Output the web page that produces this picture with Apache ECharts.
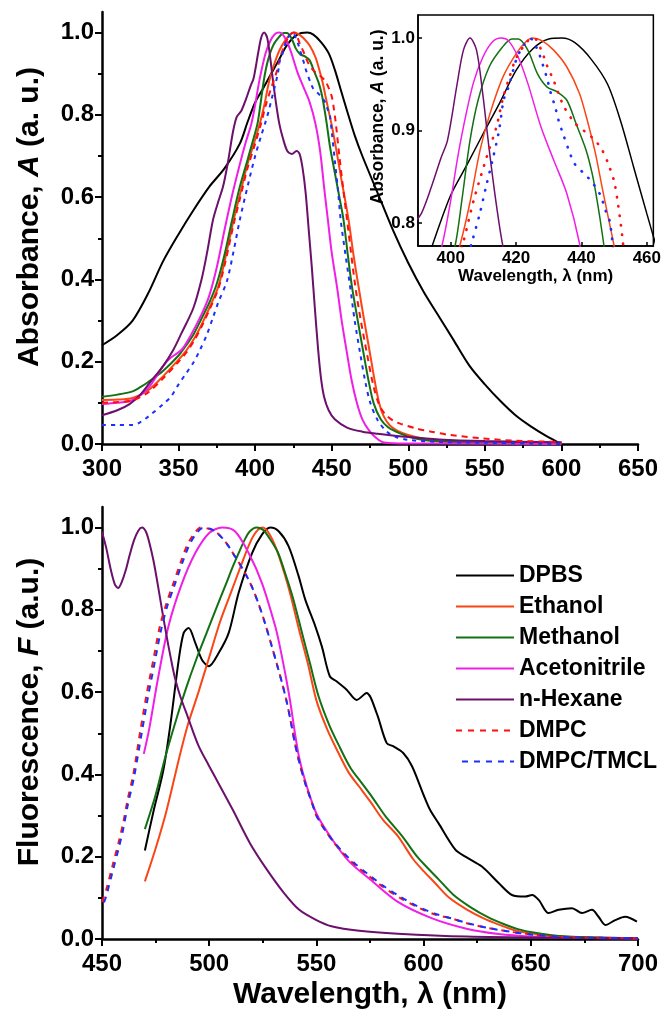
<!DOCTYPE html>
<html>
<head>
<meta charset="utf-8">
<script src="https://cdn.jsdelivr.net/npm/echarts@6/dist/echarts.min.js"></script>
<style>
html,body{margin:0;padding:0;background:#fff;}
#chart{width:664px;height:1017px;}
</style>
</head>
<body>
<div id="chart"></div>
<script>
//吸收光谱 (上图)  [波长 nm, 吸光度]
var absDPBS = [[300,0.24],[310,0.265],[320,0.30],[330,0.365],[340,0.445],[350,0.51],[360,0.57],[370,0.625],[380,0.67],[390,0.73],[395,0.782],[400,0.83],[405,0.863],[410,0.897],[415,0.93],[420,0.965],[425,0.988],[430,0.999],[434,1.0],[438,0.995],[443,0.977],[448,0.95],[452,0.91],[456,0.86],[460,0.81],[465,0.75],[470,0.70],[480,0.61],[490,0.52],[500,0.44],[510,0.37],[520,0.31],[530,0.25],[540,0.19],[550,0.145],[560,0.105],[570,0.07],[580,0.043],[590,0.02],[600,0.0]];
var absEthanol = [[300,0.107],[310,0.108],[320,0.112],[330,0.13],[340,0.165],[350,0.205],[355,0.227],[360,0.255],[365,0.29],[370,0.33],[376,0.383],[381,0.46],[386,0.545],[390,0.605],[395,0.68],[400,0.74],[403.5,0.785],[406,0.824],[409,0.879],[412,0.918],[416,0.958],[420,0.983],[423,0.996],[425,1.0],[428,0.997],[431.5,0.987],[435.5,0.969],[439.4,0.94],[442.3,0.904],[444.3,0.875],[446.3,0.839],[448.2,0.806],[450,0.775],[453,0.715],[456,0.65],[461,0.545],[464,0.465],[467.5,0.383],[471,0.305],[475,0.22],[478,0.155],[481,0.099],[484,0.067],[488,0.045],[493,0.032],[500,0.022],[510,0.013],[525,0.007],[550,0.004],[600,0.002]];
var absMethanol = [[300,0.115],[310,0.12],[320,0.128],[325,0.138],[330,0.15],[340,0.178],[350,0.215],[355,0.24],[360,0.268],[365,0.305],[370,0.343],[375,0.39],[380,0.46],[385,0.545],[390,0.625],[395,0.69],[398,0.73],[401.5,0.778],[403.4,0.824],[405.9,0.889],[408.4,0.933],[411.8,0.969],[415.8,0.99],[418.7,0.999],[420.7,0.999],[423.6,0.987],[426.6,0.961],[429.5,0.947],[432.5,0.942],[435.5,0.933],[438.4,0.907],[441.4,0.879],[443.3,0.853],[444.8,0.824],[446.5,0.785],[449,0.72],[452,0.66],[455,0.6],[457.7,0.545],[460.5,0.46],[463.2,0.383],[467,0.3],[470.8,0.22],[474,0.155],[477.3,0.1],[482,0.06],[487,0.04],[492,0.03],[500,0.018],[510,0.01],[530,0.005],[560,0.003],[600,0.002]];
var absAcetonitrile = [[300,0.097],[310,0.1],[320,0.107],[330,0.135],[340,0.19],[345,0.21],[352,0.229],[357.5,0.261],[365,0.315],[370,0.36],[375,0.43],[380,0.52],[385,0.605],[390,0.68],[394,0.735],[397.5,0.778],[400,0.824],[402,0.868],[403.9,0.904],[406.9,0.951],[409.8,0.979],[412.8,0.996],[415.5,1.0],[417.7,0.997],[420.7,0.979],[423.6,0.951],[427.6,0.904],[431.5,0.868],[435.5,0.832],[439.4,0.778],[442.5,0.71],[445,0.625],[447.5,0.545],[450,0.465],[453.4,0.383],[456.5,0.3],[460,0.22],[463,0.155],[466.5,0.099],[470,0.06],[474,0.035],[478,0.018],[483,0.005],[490,0.002],[520,0.001],[600,0.0]];
var absHexane = [[300,0.07],[310,0.082],[318,0.097],[325,0.12],[331,0.148],[340,0.19],[346.6,0.229],[352,0.27],[359.6,0.33],[365,0.40],[368.6,0.465],[372.5,0.545],[376,0.59],[379,0.625],[382,0.68],[385.6,0.76],[388,0.795],[391,0.81],[394.1,0.839],[397,0.87],[399,0.889],[402,0.951],[403.9,0.987],[405.9,1.0],[407.9,0.987],[409.8,0.94],[411.8,0.879],[413.8,0.824],[415.8,0.778],[418,0.745],[421,0.712],[424,0.705],[427,0.712],[429,0.705],[431,0.67],[433,0.61],[435,0.52],[437,0.43],[439,0.33],[441,0.235],[443,0.16],[445,0.115],[448,0.082],[452,0.06],[460,0.04],[470,0.03],[480,0.025],[500,0.017],[520,0.011],[550,0.007],[600,0.004]];
var absDMPC = [[300,0.10],[310,0.102],[320,0.106],[330,0.125],[340,0.16],[350,0.2],[355,0.222],[360,0.25],[365,0.285],[370,0.325],[376,0.378],[381,0.45],[386,0.535],[390,0.595],[395,0.67],[400,0.73],[404,0.781],[407,0.824],[411,0.871],[414,0.904],[416,0.935],[418,0.958],[420,0.978],[423.6,0.997],[425.5,1.0],[427.6,0.988],[429.5,0.97],[431.5,0.954],[434.5,0.927],[438,0.908],[441,0.899],[444,0.89],[446.3,0.879],[448.2,0.864],[450,0.845],[451.2,0.82],[452.5,0.785],[455,0.7],[457.5,0.62],[460,0.545],[465.4,0.383],[469,0.3],[473,0.22],[477,0.145],[481,0.095],[485,0.072],[490,0.057],[495,0.049],[505,0.038],[515,0.03],[527,0.022],[548,0.014],[570,0.008],[600,0.005]];
var absTMCL = [[300,0.046],[310,0.046],[320,0.046],[325,0.053],[330,0.066],[340,0.097],[345,0.115],[350,0.145],[355,0.172],[360,0.2],[364,0.229],[368.4,0.265],[372.7,0.31],[376,0.345],[381.5,0.395],[386,0.47],[390,0.545],[395,0.625],[400,0.7],[404,0.75],[406.4,0.778],[408.9,0.81],[410.8,0.839],[412.8,0.868],[414.8,0.9],[416.2,0.933],[417.7,0.947],[420.2,0.978],[422.5,0.993],[424.6,0.999],[426.6,0.987],[428.1,0.972],[429.5,0.956],[430.5,0.942],[432,0.925],[433,0.911],[434.5,0.895],[436,0.88],[437.9,0.864],[440.9,0.853],[443.3,0.844],[445.8,0.83],[447.3,0.814],[448.7,0.801],[450,0.76],[452,0.69],[454,0.62],[456,0.54],[459,0.46],[462,0.383],[465,0.3],[468.6,0.22],[472,0.15],[475.2,0.1],[480,0.058],[486,0.03],[492,0.017],[500,0.01],[520,0.005],[550,0.003],[600,0.0]];

//荧光光谱 (下图)  [波长 nm, 荧光强度]
var fluDPBS = [[470,0.215],[474,0.31],[478.6,0.41],[482,0.525],[485.8,0.679],[488.1,0.744],[490.4,0.756],[493.5,0.72],[496.6,0.679],[499.8,0.663],[504.4,0.695],[509.1,0.744],[513.7,0.841],[520,0.938],[524.6,0.983],[528.5,1.0],[532.4,0.991],[537,0.955],[541.7,0.882],[544.8,0.825],[549.5,0.76],[552.6,0.71],[556.3,0.638],[559.5,0.626],[564.1,0.606],[568.8,0.581],[573.4,0.598],[578.1,0.549],[582.8,0.476],[586,0.468],[590.5,0.452],[594.6,0.42],[600,0.35],[603,0.314],[607,0.281],[614.8,0.217],[619.5,0.2],[627.2,0.176],[635,0.136],[641.2,0.107],[647.4,0.103],[650.6,0.107],[653.7,0.095],[658.3,0.063],[663,0.071],[669.2,0.075],[673.9,0.063],[678.5,0.071],[681.6,0.054],[684.8,0.034],[689.4,0.046],[694,0.054],[699.5,0.042]];
var fluEthanol = [[470,0.14],[475,0.22],[480,0.31],[486,0.44],[490,0.52],[495,0.6],[500,0.685],[505,0.77],[510,0.84],[515,0.91],[519,0.963],[522,0.99],[525,1.0],[528,0.985],[531.5,0.946],[535,0.89],[538,0.835],[542,0.75],[546,0.67],[550,0.58],[555,0.51],[560,0.455],[565,0.405],[570,0.37],[575,0.335],[581,0.29],[588,0.25],[595,0.195],[600,0.165],[605,0.138],[612,0.1],[620,0.072],[628,0.05],[635,0.035],[642,0.022],[650,0.014],[660,0.008],[675,0.004],[700,0.002]];
var fluMethanol = [[470,0.267],[475,0.35],[479.4,0.44],[485,0.54],[489.5,0.614],[494,0.68],[498.8,0.744],[503,0.80],[508,0.865],[511,0.905],[514.4,0.946],[517,0.975],[519,0.991],[522,1.0],[525,0.995],[528,0.975],[532,0.94],[536,0.88],[539,0.83],[543,0.75],[547,0.67],[551,0.59],[556,0.52],[561,0.465],[566,0.415],[571,0.38],[576,0.345],[582,0.3],[590,0.25],[597,0.2],[602,0.172],[607,0.145],[614,0.107],[622,0.077],[630,0.053],[637,0.037],[644,0.024],[652,0.015],[662,0.008],[677,0.004],[700,0.002]];
var fluAcetonitrile = [[469.5,0.45],[472,0.51],[476,0.63],[481,0.76],[487,0.86],[493.5,0.938],[500,0.987],[506,1.0],[512,0.991],[518.4,0.938],[524.6,0.865],[530.8,0.76],[533,0.71],[536,0.63],[538,0.57],[540,0.5],[542,0.44],[545,0.38],[550,0.305],[557,0.245],[565,0.19],[575,0.145],[588,0.09],[604,0.05],[620,0.025],[635,0.012],[650,0.006],[670,0.003],[700,0.001]];
var fluHexane = [[450,0.99],[452,0.95],[454,0.9],[456,0.862],[457.5,0.853],[459,0.865],[461,0.895],[463,0.935],[465,0.97],[467,0.993],[468.7,1.0],[470.5,0.99],[472,0.965],[474,0.92],[476,0.862],[478,0.80],[480,0.74],[482,0.685],[484,0.635],[486.5,0.59],[490,0.54],[495,0.47],[500,0.42],[505,0.372],[511,0.314],[519,0.233],[527,0.168],[535,0.111],[542,0.071],[550,0.046],[557,0.031],[570,0.02],[588,0.013],[620,0.006],[660,0.003],[700,0.002]];
var fluDMPC = [[450,0.09],[452,0.12],[455,0.18],[458,0.24],[460,0.285],[462,0.34],[464.6,0.40],[468,0.51],[471,0.6],[474,0.68],[477,0.76],[480,0.815],[483,0.86],[487,0.92],[490,0.96],[493,0.985],[496,1.0],[499,0.998],[503,0.99],[506,0.975],[509,0.955],[512,0.93],[515,0.905],[518,0.877],[520,0.855],[523,0.815],[526,0.768],[529,0.715],[532,0.66],[534,0.622],[536,0.58],[538,0.53],[540,0.475],[542,0.43],[545,0.375],[548,0.33],[550,0.30],[554,0.265],[558,0.235],[563,0.205],[568,0.18],[574,0.155],[581,0.127],[589,0.1],[597,0.078],[605,0.06],[613,0.05],[621,0.037],[630,0.027],[640,0.018],[650,0.011],[665,0.005],[680,0.003],[700,0.002]];
var fluTMCL = [[450,0.075],[452,0.105],[455,0.165],[458,0.225],[460,0.27],[462,0.325],[465,0.395],[468.5,0.5],[471.5,0.59],[474.5,0.67],[477.5,0.75],[480.5,0.81],[483.5,0.855],[487.5,0.915],[490.5,0.955],[493.5,0.982],[497,0.999],[500,0.998],[503,0.99],[506,0.975],[509,0.955],[512,0.93],[515,0.905],[518,0.877],[520,0.855],[523,0.815],[526,0.768],[529,0.715],[532,0.66],[534,0.622],[536,0.58],[538,0.53],[540,0.475],[542,0.43],[545,0.375],[548,0.33],[550,0.30],[554,0.265],[558,0.237],[563,0.208],[568,0.183],[574,0.158],[581,0.13],[589,0.103],[597,0.08],[605,0.062],[613,0.05],[621,0.038],[630,0.027],[640,0.018],[650,0.011],[665,0.005],[680,0.003],[700,0.002]];

//刻度
var absTicks = [0, 0.2, 0.4, 0.6, 0.8, 1.0];
var absMinorTicks = [0.1, 0.3, 0.5, 0.7, 0.9];
var insetXTicks = [400, 420, 440, 460];
var insetYTicks = [0.8, 0.9, 1.0];

var names = ['DPBS', 'Ethanol', 'Methanol', 'Acetonitrile', 'n-Hexane', 'DMPC', 'DMPC/TMCL'];
var colors = ['#000000', '#fa4616', '#137013', '#f01ee6', '#6b106b', '#ff1010', '#1a30ff'];
var absData = [absDPBS, absEthanol, absMethanol, absAcetonitrile, absHexane, absDMPC, absTMCL];
var fluData = [fluDPBS, fluEthanol, fluMethanol, fluAcetonitrile, fluHexane, fluDMPC, fluTMCL];

var FONT = 'Liberation Sans';

function txt(size, extra) {
    var o = {color: '#000', fontFamily: FONT, fontWeight: 'bold', fontSize: size};
    for (var k in extra) { o[k] = extra[k]; }
    return o;
}
function fmt1(v) { return v.toFixed(1); }

//主坐标轴
function mainX(grid, min, max) {
    return {
        type: 'value', gridIndex: grid, min: min, max: max, interval: 50,
        axisLine: {lineStyle: {color: '#000', width: 2.5}},
        axisTick: {length: 7, lineStyle: {color: '#000', width: 2}},
        minorTick: {show: true, splitNumber: 2, length: 4, lineStyle: {color: '#000', width: 2}},
        splitLine: {show: false},
        axisLabel: txt(24, {margin: 13})
    };
}
//纵轴名称往上挪一点 (padding 在旋转后的文字方向上)
function mainY(grid, name) {
    return {
        type: 'value', gridIndex: grid, min: 0, max: 1.05, position: 'left',
        name: name, nameLocation: 'middle', nameGap: 57,
        nameTextStyle: txt(30, {padding: [0, 0, 0, 22], rich: {i: txt(30, {fontStyle: 'italic'})}}),
        axisLine: {lineStyle: {color: '#000', width: 2.5}},
        axisTick: {length: 7, customValues: absTicks, lineStyle: {color: '#000', width: 2}},
        splitLine: {show: false},
        axisLabel: txt(24, {margin: 8, customValues: absTicks, formatter: fmt1})
    };
}
//次刻度 (叠加在主轴上)
function minorY(grid) {
    return {
        type: 'value', gridIndex: grid, min: 0, max: 1.05, position: 'left',
        axisLine: {show: false}, axisLabel: {show: false}, splitLine: {show: false},
        axisTick: {length: 4, customValues: absMinorTicks, lineStyle: {color: '#000', width: 2}}
    };
}

var series = [];
//下图荧光 (放在最前面, 图例用它的样式)
for (var i = 0; i < names.length; i++) {
    var ls = {color: colors[i], width: 2};
    if (names[i] == 'DMPC') { ls.type = [6, 6]; }
    if (names[i] == 'DMPC/TMCL') { ls.type = [6, 6]; ls.dashOffset = 6; }
    series.push({
        name: names[i], type: 'line', xAxisIndex: 1, yAxisIndex: 2,
        data: fluData[i], symbol: 'none', smooth: 0.3, lineStyle: ls, color: colors[i], z: 3
    });
}
//上图吸收
for (var i = 0; i < names.length; i++) {
    var ls = {color: colors[i], width: 2};
    if (names[i] == 'DMPC') { ls.type = [6, 5]; }
    if (names[i] == 'DMPC/TMCL') { ls.type = [4, 5]; }
    series.push({
        name: names[i], type: 'line', xAxisIndex: 0, yAxisIndex: 0,
        data: absData[i], symbol: 'none', smooth: 0.3, lineStyle: ls, color: colors[i], z: 3
    });
}
//插图 (同一组吸收数据, 放大)
for (var i = 0; i < names.length; i++) {
    var ls = {color: colors[i], width: 1.5};
    if (names[i] == 'DMPC' || names[i] == 'DMPC/TMCL') { ls.type = [0.5, 9]; ls.width = 2.6; ls.cap = 'round'; }
    series.push({
        name: names[i], type: 'line', xAxisIndex: 2, yAxisIndex: 4,
        data: absData[i], symbol: 'none', smooth: 0.3, lineStyle: ls, color: colors[i], z: 6
    });
}

var option = {
    backgroundColor: '#fff',
    animation: false,
    grid: [
        {left: 102, top: 12, width: 536, height: 432},
        {left: 102, top: 507, width: 536, height: 432},
        {left: 418, top: 15, width: 244, height: 231, show: true, z: 5,
         backgroundColor: '#fff', borderColor: '#000', borderWidth: 1.5}
    ],
    xAxis: [
        mainX(0, 300, 650),
        (function () {
            var a = mainX(1, 450, 700);
            a.name = 'Wavelength, \u03bb (nm)';
            a.nameLocation = 'middle';
            a.nameGap = 41;
            a.nameTextStyle = txt(30);
            return a;
        })(),
        {
            type: 'value', gridIndex: 2, min: 390, max: 462, z: 6,
            name: 'Wavelength, \u03bb (nm)', nameLocation: 'middle', nameGap: 22,
            nameTextStyle: txt(17),
            axisLine: {lineStyle: {color: '#000', width: 1.5}},
            axisTick: {inside: true, length: 4, customValues: insetXTicks, lineStyle: {color: '#000', width: 1.5}},
            splitLine: {show: false},
            axisLabel: txt(17, {margin: 4, customValues: insetXTicks})
        }
    ],
    yAxis: [
        mainY(0, 'Absorbance, {i|A} (a. u.)'),
        minorY(0),
        mainY(1, 'Fluorescence, {i|F} (a.u.)'),
        minorY(1),
        {
            type: 'value', gridIndex: 2, min: 0.775, max: 1.025, z: 6,
            name: 'Absorbance, {i|A} (a. u.)', nameLocation: 'middle', nameGap: 30,
            nameTextStyle: txt(17.5, {padding: [0, 0, 0, 27], rich: {i: txt(17.5, {fontStyle: 'italic'})}}),
            axisLine: {lineStyle: {color: '#000', width: 1.5}},
            axisTick: {inside: true, length: 4, customValues: insetYTicks, lineStyle: {color: '#000', width: 1.5}},
            splitLine: {show: false},
            axisLabel: txt(17, {margin: 3, customValues: insetYTicks, formatter: fmt1})
        }
    ],
    legend: {
        orient: 'vertical', left: 455, top: 564, padding: 0,
        itemWidth: 58, itemHeight: 14, itemGap: 8, selectedMode: false,
        itemStyle: {opacity: 0},
        data: names,
        textStyle: txt(23)
    },
    series: series
};

var myChart = echarts.init(document.getElementById('chart'), null, {renderer: 'canvas'});
myChart.setOption(option);
</script>
</body>
</html>
